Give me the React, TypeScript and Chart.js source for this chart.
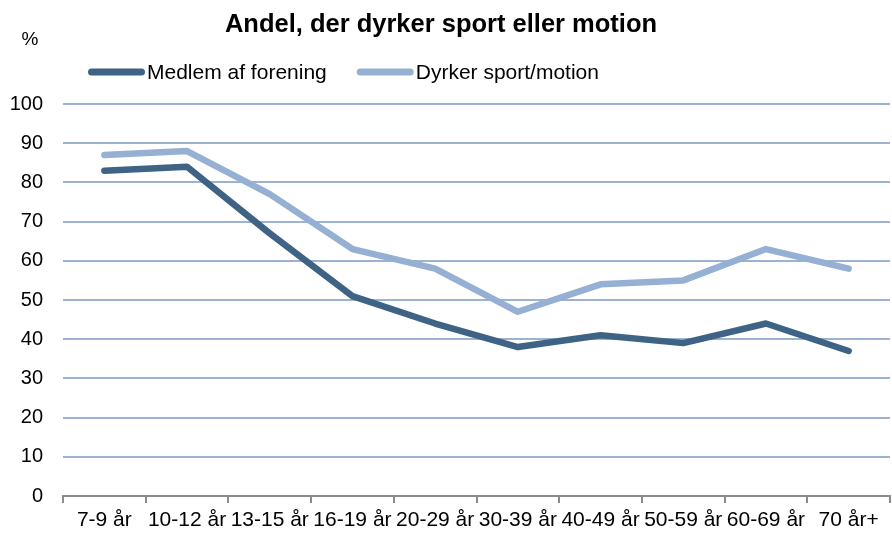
import React, { useEffect, useRef } from "react";
import { Chart, registerables } from "chart.js";

Chart.register(...registerables);

const TITLE = "Andel, der dyrker sport eller motion";
const Y_UNIT = "%";
const categories = ["7-9 år", "10-12 år", "13-15 år", "16-19 år", "20-29 år", "30-39 år", "40-49 år", "50-59 år", "60-69 år", "70 år+"];
const medlemLabel = "Medlem af forening";
const medlemValues = [83, 84, 67, 51, 44, 38, 41, 39, 44, 37];
const sportLabel = "Dyrker sport/motion";
const sportValues = [87, 88, 77, 63, 58, 47, 54, 55, 63, 58];

const DARK = "#3F6384";
const LIGHT = "#95B0D2";
const GRID = "#9CB3D3";
const AXIS = "#8C8C8C";
const FONT = "'Liberation Sans', Arial, sans-serif";

const decorPlugin = {
  id: "decor",
  afterDraw(chart: any) {
    const ctx = chart.ctx;
    ctx.save();
    ctx.fillStyle = "#000";
    ctx.textBaseline = "middle";
    // title
    ctx.font = `bold 25.5px ${FONT}`;
    ctx.textAlign = "center";
    ctx.fillText(TITLE, 441, 25);
    // unit
    ctx.font = `19px ${FONT}`;
    ctx.fillText(Y_UNIT, 30, 40);
    // legend
    ctx.textAlign = "left";
    ctx.font = `21px ${FONT}`;
    let x = 88;
    const y = 72;
    chart.data.datasets.forEach((ds: any) => {
      ctx.strokeStyle = ds.borderColor;
      ctx.lineWidth = 7;
      ctx.lineCap = "round";
      ctx.beginPath();
      ctx.moveTo(x + 3.5, y);
      ctx.lineTo(x + 57 - 3.5, y);
      ctx.stroke();
      ctx.fillStyle = "#000";
      ctx.fillText(ds.label, x + 59, y + 1);
      x += 59 + ctx.measureText(ds.label).width + 30;
    });
    ctx.restore();
  },
};

export default function App() {
  const ref = useRef<HTMLCanvasElement>(null);
  useEffect(() => {
    if (!ref.current) return;
    const chart = new Chart(ref.current, {
      type: "line",
      data: {
        labels: categories,
        datasets: [
          {
            label: medlemLabel,
            data: medlemValues,
            borderColor: DARK,
            backgroundColor: DARK,
            borderWidth: 6.5,
            pointRadius: 0,
            borderCapStyle: "round",
            borderJoinStyle: "round",
            tension: 0,
          },
          {
            label: sportLabel,
            data: sportValues,
            borderColor: LIGHT,
            backgroundColor: LIGHT,
            borderWidth: 6.5,
            pointRadius: 0,
            borderCapStyle: "round",
            borderJoinStyle: "round",
            tension: 0,
          },
        ],
      },
      options: {
        animation: false,
        responsive: false,
        maintainAspectRatio: false,
        layout: { padding: { top: 104, left: 11, right: 2, bottom: 2 } },
        plugins: {
          legend: { display: false },
          title: { display: false },
          tooltip: { enabled: false },
        },
        scales: {
          x: {
            type: "category",
            offset: true,
            afterFit: (s: any) => {
              s.height = 36;
            },
            grid: {
              display: true,
              drawOnChartArea: false,
              drawTicks: true,
              tickLength: 7,
              color: AXIS,
              lineWidth: 2,
              offset: true,
            },
            border: { display: true, color: AXIS, width: 2 },
            ticks: {
              autoSkip: false,
              maxRotation: 0,
              minRotation: 0,
              padding: 5,
              color: "#000",
              font: { family: FONT, size: 21 },
            },
          },
          y: {
            min: 0,
            max: 100,
            afterFit: (s: any) => {
              s.width = 52;
            },
            ticks: {
              stepSize: 10,
              padding: 20,
              color: "#000",
              font: { family: FONT, size: 20 },
            },
            grid: {
              drawTicks: false,
              lineWidth: 2,
              color: (c: any) => (c.tick && c.tick.value === 0 ? "rgba(0,0,0,0)" : GRID),
            },
            border: { display: false },
          },
        },
      },
      plugins: [decorPlugin],
    } as any);
    return () => chart.destroy();
  }, []);
  return (
    <div style={{ position: "fixed", left: 0, top: 0, width: 892, height: 534, background: "#fff" }}>
      <canvas ref={ref} width={892} height={534} style={{ display: "block", width: 892, height: 534 }} />
    </div>
  );
}
